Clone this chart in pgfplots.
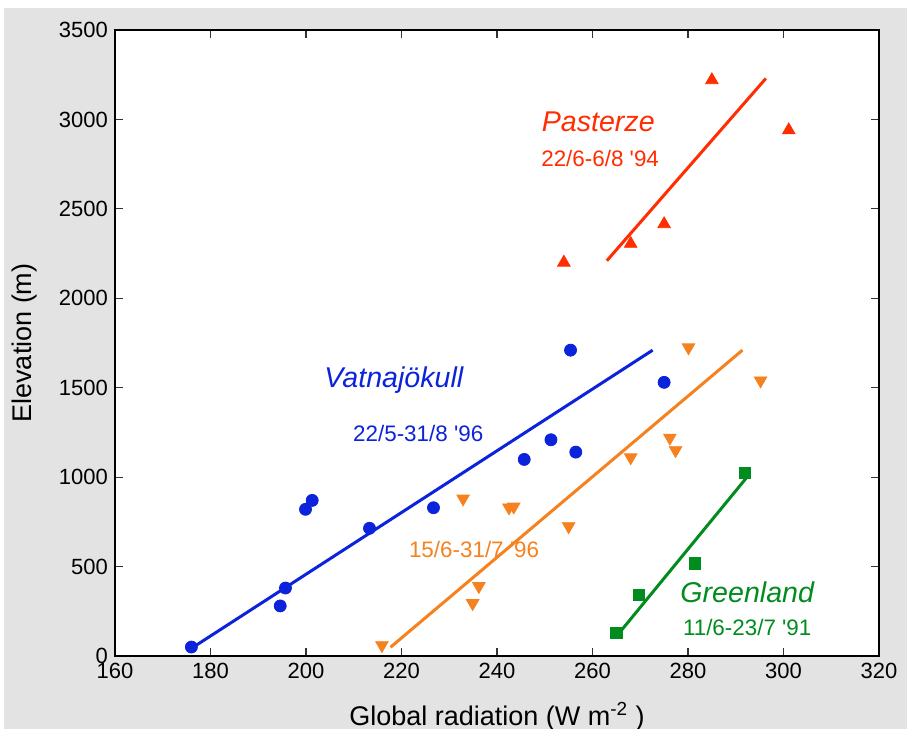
\documentclass[border=0pt]{standalone}
\usepackage{fontspec}
\setmainfont{Liberation Sans}
\usepackage{pgfplots}
\pgfplotsset{compat=1.18}
\definecolor{bggray}{RGB}{226,227,226}
\definecolor{cblue}{RGB}{12,35,220}
\definecolor{corange}{RGB}{245,130,30}
\definecolor{cred}{RGB}{255,45,0}
\definecolor{cgreen}{RGB}{0,140,30}

\begin{document}
\begin{tikzpicture}
\path[use as bounding box] (-57.5pt,-36.5pt) rectangle (396pt,328pt);
\fill[bggray] (-55.5pt,-36.5pt) rectangle (396pt,324pt);
\begin{axis}[
    scale only axis,
    width=382pt, height=313pt,
    xmin=160, xmax=320, ymin=0, ymax=3500,
    xtick={160,180,...,320},
    ytick={0,500,...,3500},
    tick align=inside,
    major tick length=4pt,
    axis line style={line width=0.7pt},
    tick style={line width=0.6pt, black!80},
    axis background/.style={fill=white},
    /pgf/number format/1000 sep={},
    /pgf/number format/assume math mode=true,
    ticklabel style={font=\fontsize{11}{13}\selectfont},
    xlabel={Global radiation (W m\textsuperscript{-2} )},
    ylabel={Elevation (m)},
    label style={font=\fontsize{13.5}{15}\selectfont},
    xlabel style={at={(axis description cs:0.5,-0.097)}, anchor=center},
    ylabel style={at={(axis description cs:-0.118,0.5)}, anchor=center},
    clip=false,
  ]

  % Vatnajokull
  \addplot[only marks, mark=*, mark size=3pt, cblue, mark options={draw=cblue, fill=cblue}]
    coordinates {
      (176,50) (194.6,280) (195.7,380) (199.9,820) (201.3,870)
      (213.3,714) (226.7,829) (245.7,1099) (251.3,1209) (256.5,1140)
      (255.4,1710) (275.0,1530)
    };
  \addplot[cblue, line width=1.5pt, no marks] coordinates {(177,60) (272.6,1710)};

  % 15/6-31/7 '96
  \addplot[only marks, mark=triangle*, mark size=3.6pt, corange,
           mark options={rotate=180, draw=corange, fill=corange}]
    coordinates {
      (215.9,60) (232.9,880) (234.9,295) (236.2,390) (242.5,830)
      (243.5,835) (255.0,725) (268.0,1110) (276.2,1220) (277.4,1150)
      (280.1,1725) (295.2,1540)
    };
  \addplot[corange, line width=1.5pt, no marks] coordinates {(217.7,49) (291.4,1710)};

  % Greenland
  \addplot[only marks, mark=square*, mark size=2.8pt, cgreen, mark options={draw=cgreen, fill=cgreen}]
    coordinates {(265.0,127) (269.7,341) (281.5,518) (291.9,1025)};
  \addplot[cgreen, line width=1.5pt, no marks] coordinates {(266.1,145) (293.0,1021)};

  % Pasterze
  \addplot[only marks, mark=triangle*, mark size=3.6pt, cred, mark options={draw=cred, fill=cred}]
    coordinates {(254.0,2200) (268.0,2305) (275.0,2415) (285.0,3220) (301.1,2940)};
  \addplot[cred, line width=1.5pt, no marks] coordinates {(263.0,2210) (296.3,3229)};

  \node[cred, font=\fontsize{14.3}{16}\selectfont\itshape] at (axis cs:261.2,2989) {Pasterze};
  \node[cred, font=\fontsize{11.2}{13}\selectfont] at (axis cs:261.6,2784) {22/6-6/8 \textquotesingle94};
  \node[cblue, font=\fontsize{14.3}{16}\selectfont\itshape] at (axis cs:218.4,1543) {Vatnajökull};
  \node[cblue, font=\fontsize{11.2}{13}\selectfont] at (axis cs:223.5,1245) {22/5-31/8 \textquotesingle96};
  \node[corange, font=\fontsize{11.2}{13}\selectfont] at (axis cs:235.2,598) {15/6-31/7 \textquotesingle96};
  \node[cgreen, font=\fontsize{14.3}{16}\selectfont\itshape] at (axis cs:292.4,358) {Greenland};
  \node[cgreen, font=\fontsize{11.2}{13}\selectfont] at (axis cs:292.4,157) {11/6-23/7 \textquotesingle91};

\end{axis}
\end{tikzpicture}
\end{document}
